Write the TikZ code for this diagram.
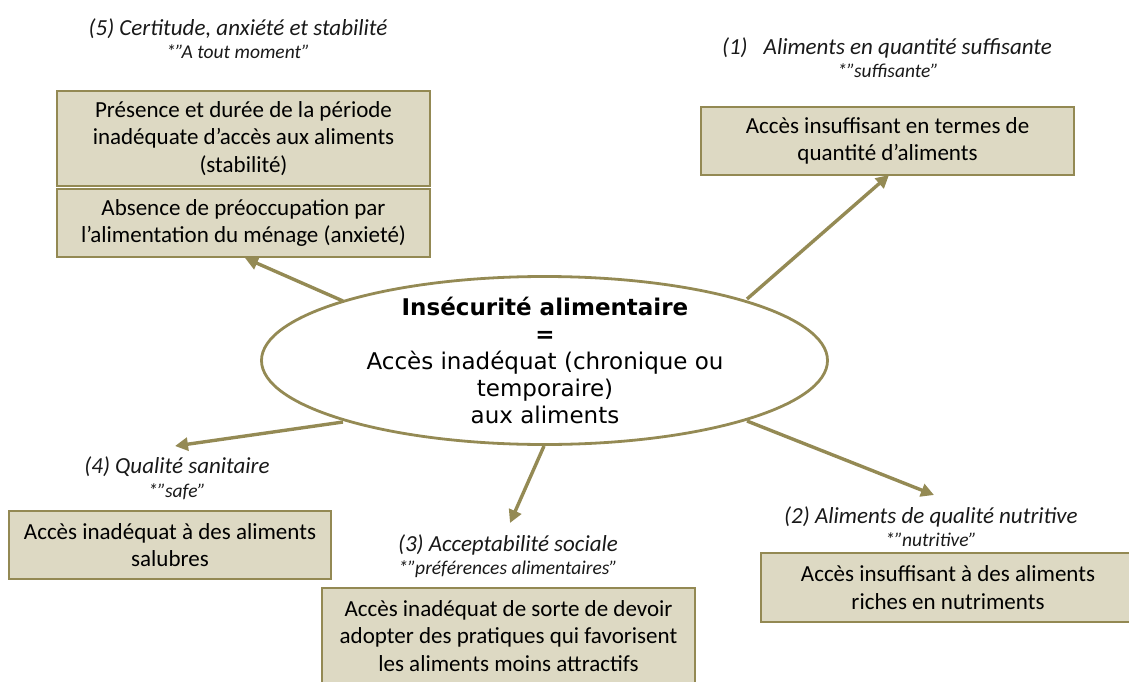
\documentclass[tikz,border=0pt]{standalone}
\usepackage{fontspec}
\setmainfont{Carlito}
\newfontfamily\verd{DejaVu Sans}
\usetikzlibrary{arrows.meta,shapes.geometric}
\definecolor{boxfill}{HTML}{DDD9C3}
\definecolor{boxline}{HTML}{938953}
\definecolor{arrcol}{HTML}{948A54}
\tikzset{
  boxnode/.style={draw=boxline, line width=1.6pt, fill=boxfill, rectangle, inner sep=0pt, align=center,
    font=\fontsize{23}{27.5}\selectfont},
  lbl/.style={align=center, inner sep=0pt, text=black!90, font=\fontsize{20}{23.5}\selectfont},
  arr/.style={draw=arrcol, line width=3.4pt, -{Triangle[length=13pt,width=13pt]}},
}
\newcommand{\lone}[1]{{\fontsize{23}{23.5}\selectfont\itshape #1}}
\newcommand{\ltwo}[1]{{\fontsize{19.5}{23.5}\selectfont\itshape #1}}
\begin{document}
\begin{tikzpicture}[x=1pt,y=-1pt]
\useasboundingbox (0,0) rectangle (1129,682);
\begin{scope}
\clip (0,0) rectangle (1129,682);
% ellipse
\node[ellipse, draw=arrcol, line width=2.8pt, fill=white, minimum width=566pt, minimum height=168pt, inner sep=0pt] (e) at (544.5,360.5) {};
\node[align=center, font=\verd\fontsize{23}{27}\selectfont] (et) at (545,360) {\textbf{Insécurité alimentaire}\\\textbf{=}\\Accès inadéquat (chronique ou\\temporaire)\\aux aliments};

% boxes
\node[boxnode, minimum width=373pt, minimum height=95pt] (b5a) at (243.5,138.5) {Présence et durée de la période\\inadéquate d’accès aux aliments\\(stabilité)};
\node[boxnode, minimum width=373pt, minimum height=68pt] (b5b) at (243.5,223) {Absence de préoccupation par\\l’alimentation du ménage (anxieté)};
\node[boxnode, minimum width=373pt, minimum height=68pt] (b1) at (887.5,141) {Accès insuffisant en termes de\\quantité d’aliments};
\node[boxnode, minimum width=322pt, minimum height=68pt] (b4) at (170,545) {Accès inadéquat à des aliments\\salubres};
\node[boxnode, minimum width=373pt, minimum height=96pt] (b3) at (508.5,636) {Accès inadéquat de sorte de devoir\\adopter des pratiques qui favorisent\\les aliments moins attractifs};
\node[boxnode, minimum width=374pt, minimum height=69pt] (b2) at (948,587.5) {Accès insuffisant à des aliments\\riches en nutriments};
\end{scope}

% labels
\node[lbl] (l5) at (238,38.5) {\lone{(5) Certitude, anxiété et stabilité}\\\ltwo{*”A tout moment”}};
\node[lbl] (l1) at (887,57.5) {\lone{(1)\hspace{16pt}Aliments en quantité suffisante}\\\ltwo{\hspace{2pt}*”suffisante”}};
\node[lbl] (l4) at (177,478) {\lone{(4) Qualité sanitaire}\\\ltwo{*”safe”}};
\node[lbl] (l3) at (508,556) {\lone{(3) Acceptabilité sociale}\\[-1pt]\ltwo{*”préférences alimentaires”}};
\node[lbl] (l2) at (931,526.5) {\lone{(2) Aliments de qualité nutritive}\\\ltwo{*”nutritive”}};

% arrow coordinates
\coordinate (s5) at (343,301);
\coordinate (t5) at (245,258);
\coordinate (s1) at (747,299);
\coordinate (t1) at (889,175);
\coordinate (s4) at (343,422);
\coordinate (t4) at (175,446);
\coordinate (s3) at (544,446);
\coordinate (t3) at (510,523);
\coordinate (s2) at (747,421);
\coordinate (t2) at (934,495);

\draw[arr] (s5) -- (t5);
\draw[arr] (s1) -- (t1);
\draw[arr] (s4) -- (t4);
\draw[arr] (s3) -- (t3);
\draw[arr] (s2) -- (t2);
\end{tikzpicture}
\end{document}
